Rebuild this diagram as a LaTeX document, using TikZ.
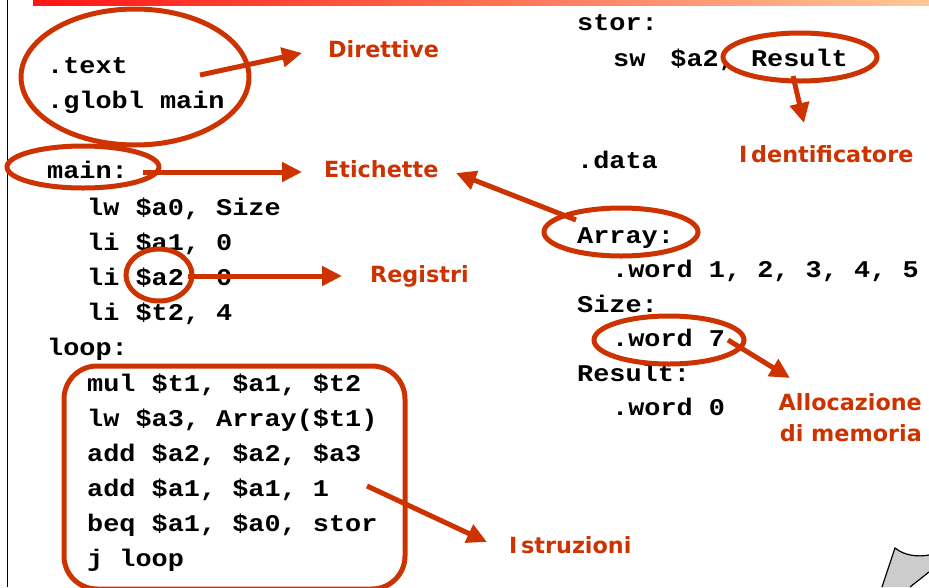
\documentclass[tikz,border=0pt]{standalone}
\usepackage{fontspec}
\setmonofont{Liberation Mono}[FakeStretch=1.12]
\newfontfamily\lblfont{DejaVu Sans}
\usetikzlibrary{arrows.meta}
\definecolor{accent}{RGB}{204,51,0}
\definecolor{peach}{RGB}{255,200,150}
\definecolor{barred}{RGB}{255,20,20}
\newcommand\codefnt{\ttfamily\bfseries\fontsize{24}{24}\selectfont}
\newcommand\lblfnt{\lblfont\bfseries\fontsize{22.3}{24}\selectfont}
\tikzset{
  code/.style={font=\codefnt, anchor=base west, inner sep=0pt, text=black},
  lbl/.style={font=\lblfnt, anchor=base west, inner sep=0pt, text=accent},
  ring/.style={draw=accent, line width=5pt},
  arr/.style={draw=accent, line width=5pt, -{Triangle[length=20pt,width=19pt]}},
}
\begin{document}
\begin{tikzpicture}[x=1pt,y=-1pt]
\useasboundingbox (0,0) rectangle (929,587);
% header bar and left rule
\shade[left color=barred, right color=peach] (33,0) rectangle (929,5);
\draw[line width=1pt] (7,0) -- (7,587);

% left code column
\node[code] (ctext)  at (47,73)  {.text};
\node[code] (cglobl) at (47,108) {.globl main};
\node[code] (cmain)  at (47,178) {main:};
\node[code] (c1) at (87,215) {lw \$a0, Size};
\node[code] (c2) at (87,250) {li \$a1, 0};
\node[code] (c3) at (87,285) {li \$a2, 0};
\node[code] (c4) at (87,320) {li \$t2, 4};
\node[code] (cloop) at (47,355) {loop:};
\node[code] (l1) at (87,391) {mul \$t1, \$a1, \$t2};
\node[code] (l2) at (87,426) {lw \$a3, Array(\$t1)};
\node[code] (l3) at (87,461) {add \$a2, \$a2, \$a3};
\node[code] (l4) at (87,496) {add \$a1, \$a1, 1};
\node[code] (l5) at (87,531) {beq \$a1, \$a0, stor};
\node[code] (l6) at (87,566) {j loop};

% right code column
\node[code] (cstor) at (577,30)  {stor:};
\node[code] (csw)   at (613,66)  {sw\hspace{25pt}\$a2, Result};
\node[code] (cdata) at (577,168) {.data};
\node[code] (carr)  at (577,243) {Array:};
\node[code] (cw1)   at (612,277) {.word 1, 2, 3, 4, 5};
\node[code] (csize) at (577,312) {Size:};
\node[code] (cw7)   at (612,346) {.word 7};
\node[code] (cres)  at (577,381) {Result:};
\node[code] (cw0)   at (612,415) {.word 0};

% labels
\node[lbl] (ldir) at (328,57)  {Direttive};
\node[lbl] (leti) at (324,177) {Etichette};
\node[lbl] (lreg) at (370,282) {Registri};
\node[lbl] (lid)  at (739,162) {I\,dentificatore};
\node[lbl, anchor=base east] (lall) at (922,410) {Allocazione};
\node[lbl, anchor=base east] (lmem) at (922,441) {di memoria};
\node[lbl] (lins) at (509,553) {I\,struzioni};

% ellipses and frame
\draw[ring] (135,77)  ellipse [x radius=114pt, y radius=68pt];
\draw[ring] (83,167)  ellipse [x radius=76pt,  y radius=21pt];
\draw[ring] (159,275) ellipse [x radius=33pt,  y radius=26pt];
\draw[ring] (800,57)  ellipse [x radius=77pt,  y radius=24pt];
\draw[ring] (621,232) ellipse [x radius=77pt,  y radius=24pt];
\draw[ring] (669,340) ellipse [x radius=75pt,  y radius=24pt];
\draw[ring, rounded corners=33pt] (64,366) rectangle (405,589);

% connector end points
\coordinate (tDir) at (200,75);   \coordinate (hDir) at (302,53);
\coordinate (tEti) at (143,172);  \coordinate (hEti) at (302,172);
\coordinate (tArr) at (576,220);  \coordinate (hArr) at (456,173);
\coordinate (tReg) at (188,276);  \coordinate (hReg) at (342,276);
\coordinate (tId)  at (793,76);   \coordinate (hId)  at (804,123);
\coordinate (tAll) at (728,340);  \coordinate (hAll) at (790,378);
\coordinate (tIns) at (367,486);  \coordinate (hIns) at (487,542);

\draw[arr] (tDir) -- (hDir);
\draw[arr] (tEti) -- (hEti);
\draw[arr] (tArr) -- (hArr);
\draw[arr] (tReg) -- (hReg);
\draw[arr] (tId)  -- (hId);
\draw[arr] (tAll) -- (hAll);
\draw[arr] (tIns) -- (hIns);

% page corner shape (bottom right)
\fill[black!20] (895,548) .. controls (905,556) and (918,557) .. (929,555)
  -- (929,572) -- (910,587) -- (882,587) -- cycle;
\draw[line width=1.2pt] (882,587) -- (895,548) .. controls (905,556) and (918,557) .. (929,555);
\draw[line width=1.2pt] (929,572) -- (910,587);
\end{tikzpicture}
\end{document}
